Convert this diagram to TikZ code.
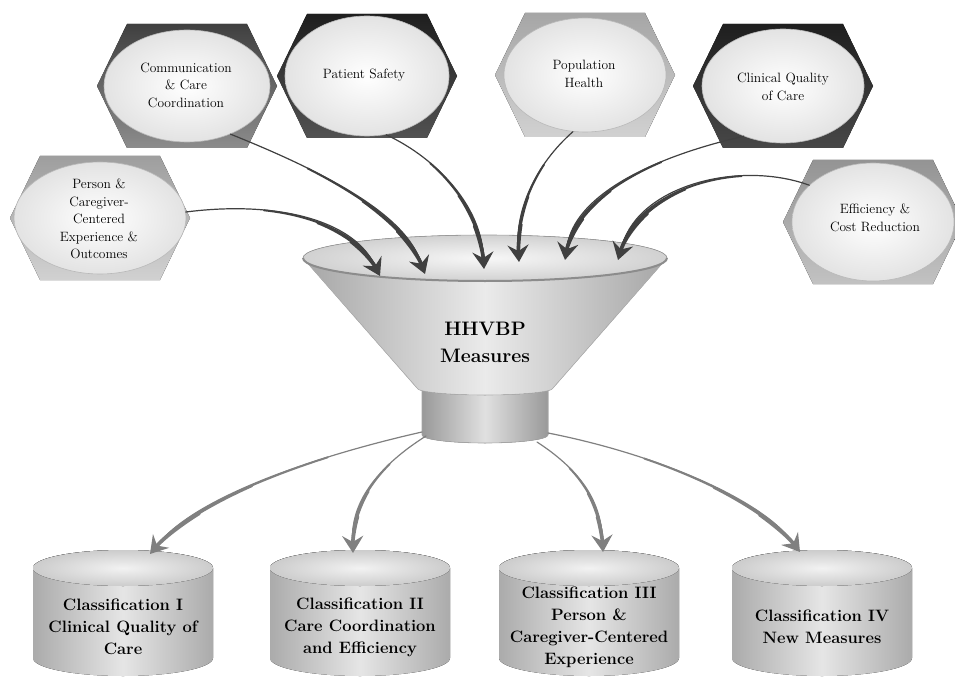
\documentclass[tikz,border=0pt]{standalone}
\usepackage{fontspec}
\usetikzlibrary{shapes.geometric,arrows.meta,calc}
\tikzset{
  hexell/.style={ellipse, draw=gray!55, line width=0.6pt, inner color=white, outer color=gray!22, inner sep=0pt},
  hextext/.style={font=\fontsize{13.5}{17.5}\selectfont, align=center, inner sep=0pt},
  cyltext/.style={font=\fontsize{16.5}{22}\selectfont\bfseries, align=center, inner sep=0pt},
  toparrow/.style={draw=black!75, line cap=round},
  botarrow/.style={draw=black!50, line cap=round},
  bigtip/.style={-{Stealth[length=17pt,width=21pt,inset=6pt]}},
}
\newcommand\hexitem[6]{% name, x, y, top colour, bottom colour, ellipse size
  \begin{scope}[shift={(#2,#3)}]
    \fill[top color=#4, bottom color=#5] (-90,0) -- (-60,-62) -- (60,-62) -- (90,0) -- (60,62) -- (-60,62) -- cycle;
  \end{scope}
  \node[hexell, #6] (#1) at (#2,#3) {};
}
\newcommand\cylitem[3]{% name, x, text
  \begin{scope}[shift={(#2,0)}]
    \fill[left color=black!33, right color=black!33, middle color=black!10]
      (-90,568) -- (-90,658) arc[start angle=180,end angle=0,x radius=90,y radius=18]
      -- (90,568) arc[start angle=0,end angle=-180,x radius=90,y radius=18] -- cycle;
    \fill[inner color=black!5, outer color=black!20] (0,568) ellipse[x radius=90,y radius=18];
  \end{scope}
  \node[cyltext] (#1) at (#2,627) {#3};
}
% tapered curved arrow: style, P0, P1, P2, P3
\newcommand\taper[5]{%
  \draw[#1, line width=1.2pt, shorten >=16pt] (#2) .. controls (#3) and (#4) .. (#5);
  \draw[#1, line width=1.9pt, shorten >=14pt]
    ($0.343*(#2)+0.441*(#3)+0.189*(#4)+0.027*(#5)$)
    .. controls ($0.49*(#3)+0.42*(#4)+0.09*(#5)$) and ($0.7*(#4)+0.3*(#5)$) .. (#5);
  \draw[#1, line width=2.7pt, shorten >=12pt]
    ($0.091125*(#2)+0.334125*(#3)+0.408375*(#4)+0.166375*(#5)$)
    .. controls ($0.2025*(#3)+0.495*(#4)+0.3025*(#5)$) and ($0.45*(#4)+0.55*(#5)$) .. (#5);
  \draw[#1, line width=3.6pt, bigtip]
    ($0.015625*(#2)+0.140625*(#3)+0.421875*(#4)+0.421875*(#5)$)
    .. controls ($0.0625*(#3)+0.375*(#4)+0.5625*(#5)$) and ($0.25*(#4)+0.75*(#5)$) .. (#5);
}
\begin{document}
\begin{tikzpicture}[x=1pt,y=-1pt]
\useasboundingbox (0,0) rectangle (955,679);
\clip (0,0) rectangle (955,679);
\fill[white] (0,0) rectangle (955,679);

% hexagons
\hexitem{personE}{100}{218}{black!38}{black!18}{minimum width=172, minimum height=112}
\hexitem{commE}{187}{86}{black!75}{black!45}{minimum width=166, minimum height=112}
\hexitem{safetyE}{367}{76}{black!88}{black!68}{minimum width=164, minimum height=120}
\hexitem{popE}{585}{75}{black!35}{black!18}{minimum width=162, minimum height=114}
\hexitem{clinE}{783}{86}{black!88}{black!72}{minimum width=162, minimum height=114}
\hexitem{effE}{873}{222}{black!42}{black!24}{minimum width=162, minimum height=118}

\node[hextext] (person) at (99,219) {Person \&\\Caregiver-\\Centered\\Experience \&\\Outcomes};
\node[hextext] (comm) at (186,85) {Communication\\\& Care\\Coordination};
\node[hextext] (safety) at (364,75) {Patient Safety};
\node[hextext] (pop) at (584,74) {Population\\Health};
\node[hextext] (clin) at (783,87) {Clinical Quality\\of Care};
\node[hextext] (eff) at (875,218) {Efficiency \&\\Cost Reduction};

% funnel
\fill[left color=black!40, right color=black!40, middle color=black!12]
  (422,385) -- (422,435) arc[start angle=180,end angle=0,x radius=63,y radius=8] -- (548,385) -- cycle;
\draw[black!35, line width=0.6pt] (422,385) -- (422,435) arc[start angle=180,end angle=0,x radius=63,y radius=8] -- (548,385);
\fill[left color=black!35, right color=black!35, middle color=black!8]
  (303,258) -- (417,388) arc[start angle=180,end angle=0,x radius=68,y radius=7] -- (667,258) -- cycle;
\draw[black!30, line width=0.6pt] (303,258) -- (417,388) arc[start angle=180,end angle=0,x radius=68,y radius=7] -- (667,258);
\fill[inner color=black!3, outer color=black!18] (485,258) ellipse[x radius=182,y radius=23];
\draw[black!40, line width=0.6pt] (485,258) ellipse[x radius=182,y radius=23];
\draw[black!45, line width=2pt] (303,258) arc[start angle=180,end angle=0,x radius=182,y radius=23];
\node[font=\fontsize{19.5}{27}\selectfont\bfseries, align=center, inner sep=0pt] (hh) at (485,342) {HHVBP\\Measures};
\node[minimum width=126, minimum height=50, inner sep=0pt] (neck) at (485,412) {};

% arrow targets on the rim
\coordinate (in1) at (380,276);
\coordinate (in2) at (425,274);
\coordinate (in3) at (484,269);
\coordinate (in4) at (519,262);
\coordinate (in5) at (565,260);
\coordinate (in6) at (618,260);
% arrow starts at the neck
\coordinate (out1) at (422,432);
\coordinate (out2) at (426,436);
\coordinate (out3) at (537,442);
\coordinate (out4) at (548,433);

% cylinders
\cylitem{c1}{123}{Classification I\\Clinical Quality of\\Care}
\cylitem{c2}{360}{Classification II\\Care Coordination\\and Efficiency}
\cylitem{c3}{589}{Classification III\\Person \&\\Caregiver-Centered\\Experience}
\cylitem{c4}{822}{Classification IV\\New Measures}
\coordinate (c1t) at (150,554);
\coordinate (c2t) at (353,553);
\coordinate (c3t) at (603,552);
\coordinate (c4t) at (800,552);

% top arrows
\taper{toparrow}{personE.4}{280,200}{352,222}{in1}
\taper{toparrow}{commE.-48}{320,170}{402,212}{in2}
\taper{toparrow}{safetyE.-72}{440,160}{480,208}{in3}
\taper{toparrow}{popE.-102}{535,165}{516,210}{in4}
\taper{toparrow}{clinE.-128}{640,160}{575,200}{in5}
\taper{toparrow}{effE.150}{740,160}{640,185}{in6}

% bottom arrows
\taper{botarrow}{out1}{320,455}{200,495}{c1t}
\taper{botarrow}{out2}{380,465}{352,500}{c2t}
\taper{botarrow}{out3}{580,470}{600,500}{c3t}
\taper{botarrow}{out4}{660,455}{760,500}{c4t}
\end{tikzpicture}
\end{document}
